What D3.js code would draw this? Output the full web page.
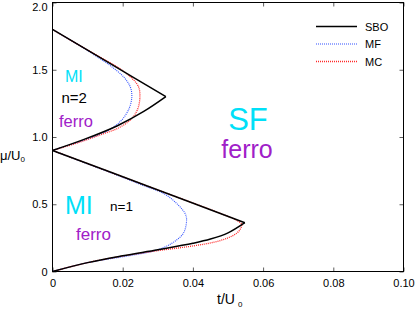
<!DOCTYPE html>
<html>
<head>
<meta charset="utf-8">
<script src="https://cdn.jsdelivr.net/npm/d3@7"></script>
<style>
  body { margin: 0; background: #fff; }
  svg { font-family: "Liberation Sans", Arial, sans-serif; }
</style>
</head>
<body>
<script>
// ticks
var xTicks = [0, 0.02, 0.04, 0.06, 0.08, 0.10];
var xTickLabels = ["0", "0.02", "0.04", "0.06", "0.08", "0.10"];
var yTicks = [0, 0.5, 1.0, 1.5, 2.0];
var yTickLabels = ["0", "0.5", "1.0", "1.5", "2.0"];

// SBO branches [t, mu]
var sboUpper2 = [[0, 1.8], [0.016, 1.553], [0.0323, 1.30]];
var sboLower2 = [[0, 0.9], [0.009, 0.982], [0.0185, 1.084], [0.026, 1.19], [0.0323, 1.30]];
var sboUpper1 = [[0, 0.9], [0.027, 0.636], [0.0548, 0.363]];
var sboLower1 = [[0, 0], [0.01, 0.066], [0.02, 0.117], [0.03, 0.162], [0.04, 0.21], [0.045, 0.241], [0.05, 0.287], [0.0548, 0.363]];

// MF lobes
var mf2 = [[0, 1.8], [0.006, 1.707], [0.0116, 1.615], [0.0165, 1.53], [0.0205, 1.44], [0.0222, 1.37], [0.0226, 1.30],
           [0.0218, 1.21], [0.0195, 1.12], [0.016, 1.05], [0.0116, 1.0], [0.006, 0.95], [0, 0.9]];
var mf1 = [[0, 0.9], [0.01, 0.80], [0.02, 0.70], [0.026, 0.638], [0.032, 0.575], [0.0358, 0.495], [0.0378, 0.43], [0.0382, 0.383],
           [0.0373, 0.285], [0.034, 0.21], [0.0292, 0.155], [0.022, 0.118], [0.01, 0.066], [0, 0]];

// MC lobes
var mc2 = [[0, 1.8], [0.008, 1.677], [0.0135, 1.595], [0.0185, 1.52], [0.0225, 1.44], [0.0245, 1.374], [0.0249, 1.30],
           [0.0243, 1.21], [0.0225, 1.135], [0.019, 1.07], [0.0135, 1.015], [0.007, 0.955], [0, 0.9]];
var mc1 = [[0, 0.9], [0.025, 0.655], [0.05, 0.41], [0.0525, 0.38], [0.0539, 0.35], [0.0535, 0.315], [0.0525, 0.285],
           [0.05, 0.25], [0.046, 0.218], [0.04, 0.19], [0.03, 0.155], [0.02, 0.115], [0.01, 0.066], [0, 0]];

var legendNames = ["SBO", "MF", "MC"];

var width = 415, height = 311;
var svg = d3.select("body").append("svg").attr("width", width).attr("height", height);
svg.append("rect").attr("width", width).attr("height", height).attr("fill", "#fff");

var x = d3.scaleLinear().domain([0, 0.1]).range([52.5, 403.5]);
var y = d3.scaleLinear().domain([0, 2]).range([271.5, 2.5]);

var styles = {
  SBO: { color: "#000", width: 1.5, dash: null },
  MF: { color: "#3050ff", width: 1.1, dash: "1,1" },
  MC: { color: "#ff2a2a", width: 1.3, dash: "1,1" }
};

function drawAxis(axis, tr) {
  var g = svg.append("g").attr("transform", tr).call(axis);
  g.select(".domain").remove();
  g.selectAll(".tick line").attr("stroke", "#333").attr("stroke-width", 0.8);
  g.selectAll("text").attr("font-size", 11).attr("fill", "#000").attr("font-family", "Liberation Sans, Arial, sans-serif");
  return g;
}

drawAxis(d3.axisBottom(x).tickValues(xTicks).tickFormat(function(d, i) { return xTickLabels[i]; })
  .tickSizeInner(-4).tickSizeOuter(0).tickPadding(8), "translate(0," + y(0) + ")");
drawAxis(d3.axisTop(x).tickValues(xTicks).tickFormat("").tickSizeInner(-4).tickSizeOuter(0), "translate(0," + y(2) + ")");
var yAx = drawAxis(d3.axisLeft(y).tickValues(yTicks).tickFormat(function(d, i) { return yTickLabels[i]; })
  .tickSizeInner(-4).tickSizeOuter(0).tickPadding(5), "translate(" + x(0) + ",0)");
// keep the top label inside the picture
yAx.selectAll(".tick text").filter(function(d) { return d === 2; }).attr("dy", "0.75em").attr("transform", "translate(0,-0.5)");
drawAxis(d3.axisRight(y).tickValues(yTicks).tickFormat("").tickSizeInner(-4).tickSizeOuter(0), "translate(" + x(0.1) + ",0)");

var smooth = d3.line().x(function(d) { return x(d[0]); }).y(function(d) { return y(d[1]); }).curve(d3.curveCatmullRom.alpha(0.5));

function addPath(data, s) {
  svg.append("path").attr("d", smooth(data)).attr("fill", "none")
    .attr("stroke", s.color).attr("stroke-width", s.width)
    .attr("stroke-dasharray", s.dash);
}

[mf2, mf1].forEach(function(d) { addPath(d, styles.MF); });
[mc2, mc1].forEach(function(d) { addPath(d, styles.MC); });
[sboUpper2, sboLower2, sboUpper1, sboLower1].forEach(function(d) { addPath(d, styles.SBO); });

// frame
svg.append("rect").attr("x", x(0)).attr("y", y(2)).attr("width", x(0.1) - x(0)).attr("height", y(0) - y(2))
  .attr("fill", "none").attr("stroke", "#000").attr("stroke-width", 1);

// legend
var leg = svg.append("g");
legendNames.forEach(function(n, i) {
  var s = styles[n], ly = 26.5 + i * 17.5;
  leg.append("line").attr("x1", 316).attr("x2", 357).attr("y1", ly).attr("y2", ly)
    .attr("stroke", s.color).attr("stroke-width", s.width).attr("stroke-dasharray", s.dash);
  leg.append("text").attr("x", 365).attr("y", ly + 4).attr("font-size", 11).text(n);
});

// axis titles
var xt = svg.append("text").attr("x", 217).attr("y", 304).attr("font-size", 14);
xt.append("tspan").text("t/U");
xt.append("tspan").attr("dx", 3).attr("dy", 3).attr("font-size", 8).text("0");
var yt = svg.append("text").attr("x", 0).attr("y", 160).attr("font-size", 13);
yt.append("tspan").text("μ/U");
yt.append("tspan").attr("dy", 2).attr("font-size", 8).text("0");

// region labels
var cyan = "#00e0f8", purple = "#a020c8";
function label(txt, px, py, size, color, anchor) {
  svg.append("text").attr("x", px).attr("y", py).attr("font-size", size).attr("fill", color)
    .attr("text-anchor", anchor || "start").text(txt);
}
label("SF", 248, 129.5, 31, cyan, "middle");
label("ferro", 247, 158, 25, purple, "middle");
label("MI", 65, 213.5, 25, cyan);
label("n=1", 110, 211, 13.5, "#000");
label("ferro", 76, 240, 17, purple);
label("MI", 65, 82, 16, cyan);
label("n=2", 61.5, 102.5, 15, "#000");
label("ferro", 59, 127, 16.5, purple);
</script>
</body>
</html>
